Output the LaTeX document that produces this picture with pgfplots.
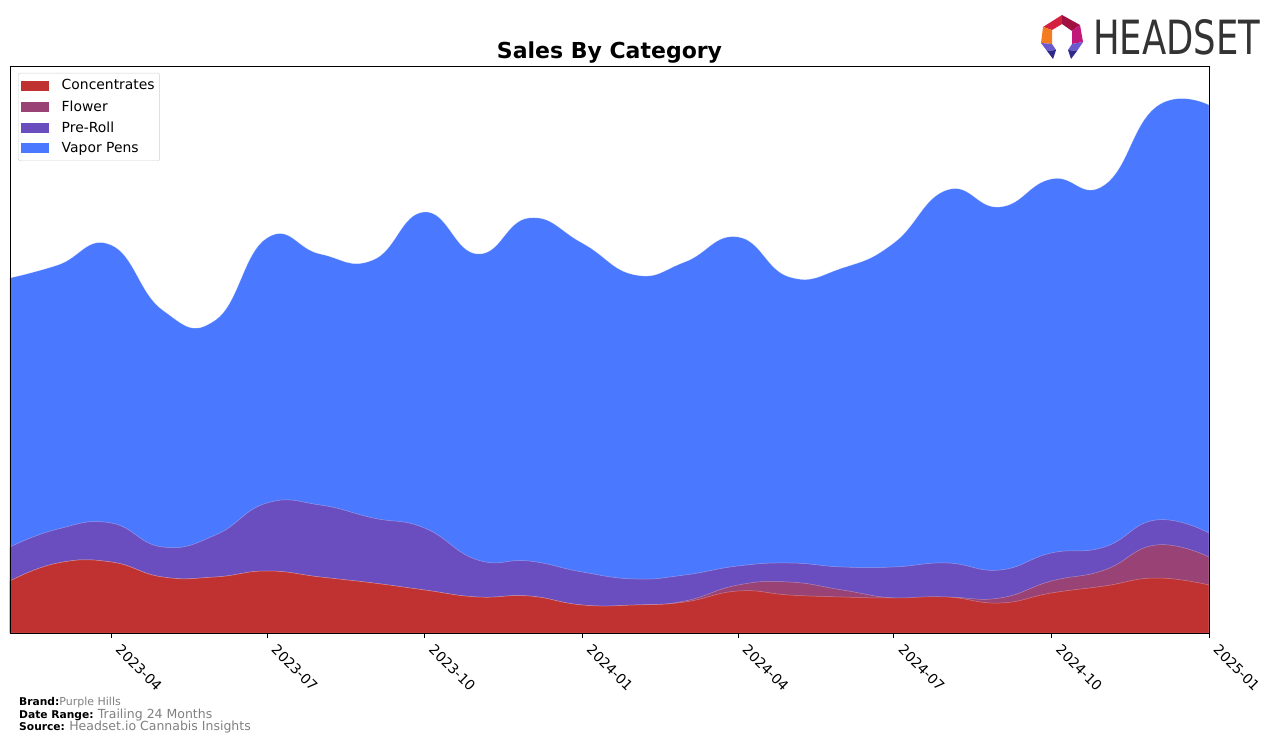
\documentclass[border=0pt]{standalone}
\usepackage{pgfplots}
\pgfplotsset{compat=1.18}
\usepackage{pgfplotstable}
\usepackage{fontspec}
\setmainfont{DejaVu Sans}
\usepackage{graphicx}

\definecolor{cConc}{RGB}{192,50,50}
\definecolor{cFlow}{RGB}{153,66,118}
\definecolor{cPre}{RGB}{106,77,190}
\definecolor{cVap}{RGB}{74,120,255}
\definecolor{noteGray}{RGB}{128,128,128}
\definecolor{logoGray}{RGB}{51,51,51}

% date = days since 2023-02-01; values = layer heights (no y scale shown)
\pgfplotstableread{
date C F P V
0   52 0  34 269
28  70 0  34 264
59  71 0  39 278
89  56 0  30 237
120 56 0  42 215
150 62 0  68 265
181 56 0  72 251
212 50 0  65 258
242 43 0  62 316
273 36 0  37 306
303 37 0  35 343
334 28 0  33 329
365 28 0  26 304
394 31 1  26 313
425 42 6  19 329
455 38 13 19 286
486 36 7  23 299
516 35 0  31 324
547 36 0  34 373
578 30 5  28 363
608 40 12 28 374
639 47 16 23 362
669 55 33 25 413
700 48 28 24 428
}\salesdata

\begin{document}
\begin{tikzpicture}
\useasboundingbox (0pt,0pt) rectangle (1276pt,744pt);
\begin{axis}[
  at={(10pt,111pt)}, anchor=south west,
  width=1199pt, height=567pt, scale only axis,
  xmin=0, xmax=700, ymin=0, ymax=567,
  axis on top,
  axis line style={line width=0.8pt},
  ytick=\empty,
  xtick={59,150,242,334,425,516,608,700},
  xticklabels={2023-04,2023-07,2023-10,2024-01,2024-04,2024-07,2024-10,2025-01},
  xtick pos=bottom, tick align=outside, major tick length=5pt,
  tick style={line width=0.8pt, black},
  /pgf/number format/assume math mode=true,
  xticklabel style={xshift=11pt, yshift=-4pt, rotate=-45, anchor=north west, inner sep=1pt, font=\fontsize{13.9}{14}\selectfont},
  reverse legend,
  legend cell align=left,
  legend style={at={(0.0067,0.9877)}, anchor=north west, draw=black!18, rounded corners=2pt,
    fill=white, font=\fontsize{13.9}{16}\selectfont, inner xsep=3pt, inner ysep=4.5pt, row sep=5pt,
    /tikz/every odd column/.append style={column sep=10.5pt}},
  legend image code/.code={\path[#1, draw=none, sharp corners] (0pt,-5pt) rectangle (28pt,5pt);},
]
\addplot[fill=cVap, draw=white, draw opacity=0.35, line width=0.5pt, smooth, tension=0.8]
  table[x=date, y expr=\thisrow{C}+\thisrow{F}+\thisrow{P}+\thisrow{V}] {\salesdata} \closedcycle;
\addlegendentry{Vapor Pens}
\addplot[fill=cPre, draw=white, draw opacity=0.35, line width=0.5pt, smooth, tension=0.8]
  table[x=date, y expr=\thisrow{C}+\thisrow{F}+\thisrow{P}] {\salesdata} \closedcycle;
\addlegendentry{Pre-Roll}
\addplot[fill=cFlow, draw=white, draw opacity=0.35, line width=0.5pt, smooth, tension=0.8]
  table[x=date, y expr=\thisrow{C}+\thisrow{F}] {\salesdata} \closedcycle;
\addlegendentry{Flower}
\addplot[fill=cConc, draw=white, draw opacity=0.35, line width=0.5pt, smooth, tension=0.8]
  table[x=date, y=C] {\salesdata} \closedcycle;
\addlegendentry{Concentrates}
\end{axis}

% title
\node[anchor=base, inner sep=0pt, font=\bfseries\fontsize{22}{22}\selectfont] at (609.5pt,685pt) {Sales By Category};

% notes
\node[anchor=base west, inner sep=0pt] at (19pt,39pt) {{\bfseries\fontsize{10.7}{12}\selectfont Brand:}{\color{noteGray}\fontsize{11}{12}\selectfont Purple Hills}};
\node[anchor=base west, inner sep=0pt] at (19pt,26pt) {{\bfseries\fontsize{10.7}{12}\selectfont Date Range:} {\color{noteGray}\fontsize{12.5}{12}\selectfont Trailing 24 Months}};
\node[anchor=base west, inner sep=0pt] at (19pt,13.5pt) {{\bfseries\fontsize{10.7}{12}\selectfont Source:} {\color{noteGray}\fontsize{12.5}{12}\selectfont Headset.io Cannabis Insights}};

% logo
\begin{scope}[yshift=744pt, x=1pt, y=-1pt]
  \fill[color={rgb,255:red,212;green,33;blue,61}] (1043,27) -- (1062,15) -- (1062,24) -- (1052,30) -- cycle;
  \fill[color={rgb,255:red,160;green,16;blue,64}] (1062,15) -- (1080,25) -- (1072,31) -- (1062,24) -- cycle;
  \fill[color={rgb,255:red,244;green,123;blue,32}] (1043,27) -- (1052,30) -- (1052,44) -- (1041,43) -- cycle;
  \fill[color={rgb,255:red,194;green,24;blue,122}] (1080,25) -- (1083,42) -- (1072,44) -- (1072,31) -- cycle;
  \fill[color={rgb,255:red,106;green,90;blue,205}] (1041,43) -- (1052,44) -- (1056,50) -- (1047,51) -- cycle;
  \fill[color={rgb,255:red,46;green,42;blue,138}] (1047,51) -- (1056,50) -- (1053,59) -- cycle;
  \fill[color={rgb,255:red,106;green,90;blue,205}] (1083,42) -- (1072,44) -- (1068,50) -- (1077,51) -- cycle;
  \fill[color={rgb,255:red,46;green,42;blue,138}] (1077,51) -- (1068,50) -- (1071,59) -- cycle;
\end{scope}
\node[anchor=south west, inner sep=0pt, text=logoGray] at (1093pt,689pt) {\resizebox{167pt}{35pt}{\fontsize{48}{48}\selectfont HEADSET}};
\end{tikzpicture}
\end{document}
